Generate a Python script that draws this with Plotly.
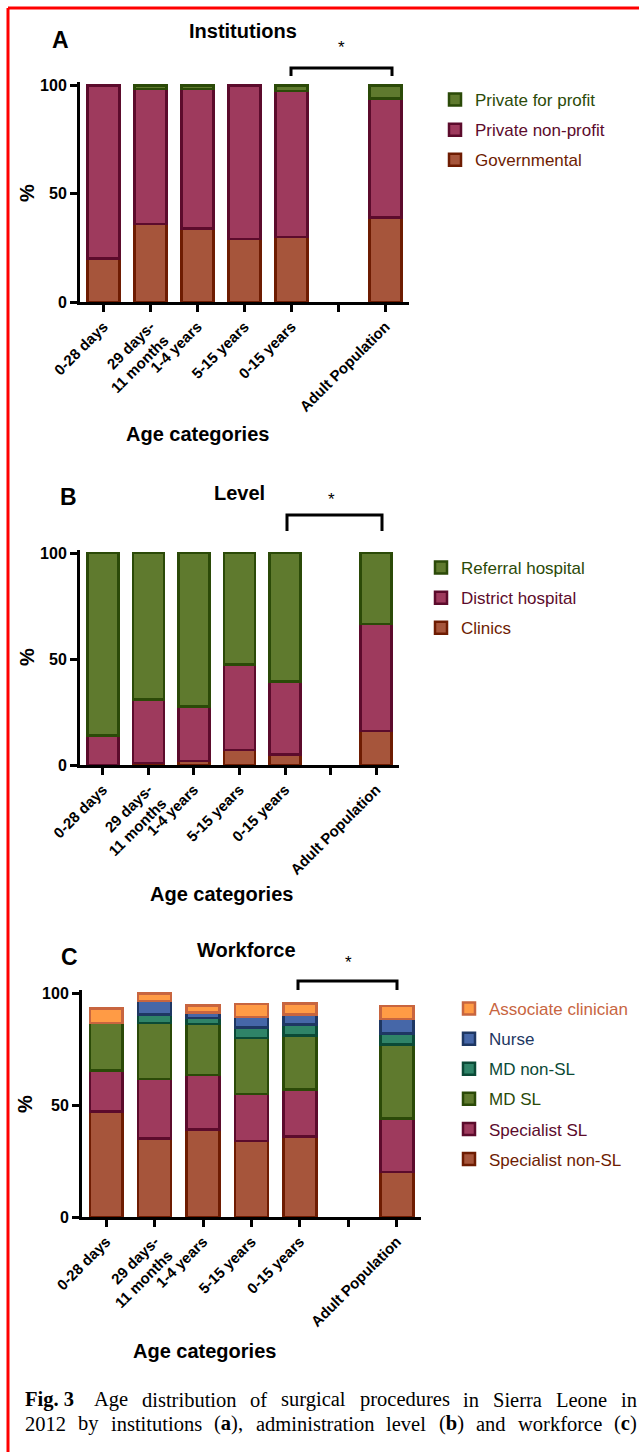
import plotly.graph_objects as go

W, H = 639, 1452
FONT = "Liberation Sans, Arial, Helvetica, sans-serif"
SERIF = "Liberation Serif, Times New Roman, serif"

# ---------------- data ----------------
age_groups = ["0-28 days", "29 days-<br>11 months", "1-4 years", "5-15 years",
              "0-15 years", "Adult Population"]
axis_categories = ["0-28 days", "29 days-<br>11 months", "1-4 years", "5-15 years",
                   "0-15 years", " ", "Adult Population"]

# Panel A - Institutions (%)
inst_governmental = [20, 36, 34, 29, 30, 39]
inst_private_nonprofit = [80, 62.5, 64.5, 71, 67.5, 55]
inst_private_profit = [0, 1.5, 1.5, 0, 2.5, 6]

# Panel B - Level (%)
level_clinics = [0, 1, 2, 7, 5, 16]
level_district = [14, 30, 25.5, 40.5, 34.5, 50.5]
level_referral = [86, 69, 72.5, 52.5, 60.5, 33.5]

# Panel C - Workforce (%)
wf_specialist_nonsl = [47, 35, 39, 34, 36, 20]
wf_specialist_sl = [18.5, 26.5, 24.5, 21, 21, 24]
wf_md_sl = [21, 25, 22.7, 25, 24, 33]
wf_md_nonsl = [0, 4, 2.7, 4.5, 5, 5]
wf_nurse = [0, 6, 2.5, 4.8, 4.3, 6.3]
wf_associate = [6.5, 3.3, 3, 5.9, 5, 6]

caption_line1 = [[("Fig. 3", True)], [("Age", False)], [("distribution", False)], [("of", False)],
                 [("surgical", False)], [("procedures", False)], [("in", False)],
                 [("Sierra", False)], [("Leone", False)], [("in", False)]]
caption_line2 = [[("2012", False)], [("by", False)], [("institutions", False)],
                 [("(", False), ("a", True), ("),", False)], [("administration", False)],
                 [("level", False)], [("(", False), ("b", True), (")", False)], [("and", False)],
                 [("workforce", False)], [("(", False), ("c", True), (")", False)]]

# ---------------- styles ----------------
BROWN = ("#a6553b", "#6e1c02")
MAROON = ("#9e3a5d", "#5c0b2c")
GREEN = ("#5f7a2e", "#2b4a08")
TEAL = ("#2f8468", "#0b4a36")
BLUE = ("#4667a8", "#1e3763")
ORANGE = ("#ff9b45", "#c8653f")


def px(x):
    return x / W


def py(y):
    return 1 - y / H


fig = go.Figure()


def add_bar(name, values, colors, xa, ya, legend, rank):
    fill, line = colors
    fig.add_trace(go.Bar(
        x=age_groups,
        y=[v if v else None for v in values],
        name=f'<span style="color:{line}">{name}</span>',
        marker=dict(color=fill, line=dict(color=line, width=2.5)),
        width=0.68,
        xaxis=xa, yaxis=ya,
        legend=legend,
        legendgroup=legend + name,
        legendrank=rank,
    ))


add_bar("Governmental", inst_governmental, BROWN, "x", "y", "legend", 3)
add_bar("Private non-profit", inst_private_nonprofit, MAROON, "x", "y", "legend", 2)
add_bar("Private for profit", inst_private_profit, GREEN, "x", "y", "legend", 1)

add_bar("Clinics", level_clinics, BROWN, "x2", "y2", "legend2", 3)
add_bar("District hospital", level_district, MAROON, "x2", "y2", "legend2", 2)
add_bar("Referral hospital", level_referral, GREEN, "x2", "y2", "legend2", 1)

add_bar("Specialist non-SL", wf_specialist_nonsl, BROWN, "x3", "y3", "legend3", 6)
add_bar("Specialist SL", wf_specialist_sl, MAROON, "x3", "y3", "legend3", 5)
add_bar("MD SL", wf_md_sl, GREEN, "x3", "y3", "legend3", 4)
add_bar("MD non-SL", wf_md_nonsl, TEAL, "x3", "y3", "legend3", 3)
add_bar("Nurse", wf_nurse, BLUE, "x3", "y3", "legend3", 2)
add_bar("Associate clinician", wf_associate, ORANGE, "x3", "y3", "legend3", 1)

TOP = 101.5


def xaxis_cfg(x0, x1, anchor):
    return dict(domain=[px(x0), px(x1)], anchor=anchor, type="category",
                categoryorder="array", categoryarray=axis_categories,
                tickvals=axis_categories, range=[-0.5, 6.5],
                ticks="outside", ticklen=7, tickwidth=3, tickcolor="black",
                showline=True, linewidth=3, linecolor="black", automargin=False,
                showgrid=False, zeroline=False, tickangle=-45,
                tickfont=dict(family=FONT, size=15, color="black", weight="bold"))


def yaxis_cfg(y0px, y100px, anchor):
    top_px = y0px - TOP * (y0px - y100px) / 100
    return dict(domain=[py(y0px), py(top_px)], anchor=anchor, range=[0, TOP],
                tickvals=[0, 50, 100], ticks="outside", ticklen=7, tickwidth=3,
                tickcolor="black", showline=True, linewidth=3, linecolor="black",
                showgrid=False, zeroline=False, automargin=False,
                tickfont=dict(family=FONT, size=16, color="black", weight="bold"))


legend_common = dict(bgcolor="rgba(0,0,0,0)", borderwidth=0,
                     traceorder="grouped", tracegroupgap=5,
                     xanchor="left", yanchor="top",
                     font=dict(family=FONT, size=17, color="black"))

annotations = []


def txt(text, x, y, size, angle=0, font=FONT, xanchor="center", color="black"):
    annotations.append(dict(text=text, x=px(x), y=py(y), xref="paper", yref="paper",
                            showarrow=False, xanchor=xanchor, yanchor="middle",
                            textangle=angle,
                            font=dict(family=font, size=size, color=color)))


# Panel A texts
txt("<b>A</b>", 60, 40, 23)
txt("<b>Institutions</b>", 243, 31, 20)
txt("*", 341, 47, 17)
txt("<b>%</b>", 27, 193, 20, angle=-90)
txt("<b>Age categories</b>", 198, 434, 20)
# Panel B texts
txt("<b>B</b>", 68, 497, 23)
txt("<b>Level</b>", 239, 493, 20)
txt("*", 332, 499, 17)
txt("<b>%</b>", 27, 657, 20, angle=-90)
txt("<b>Age categories</b>", 221, 894, 20)
# Panel C texts
txt("<b>C</b>", 69, 957, 23)
txt("<b>Workforce</b>", 246, 950, 20)
txt("*", 348, 963, 17)
txt("<b>%</b>", 25, 1104, 20, angle=-90)
txt("<b>Age categories</b>", 204, 1351, 20)

# ---- justified caption (Times metrics, per 1000 em) ----
REG = {" ": 250, "(": 333, ")": 333, ",": 250, ".": 250, "-": 333,
       "a": 444, "b": 500, "c": 444, "d": 500, "e": 444, "f": 333, "g": 500, "h": 500,
       "i": 278, "k": 500, "l": 278, "m": 778, "n": 500, "o": 500, "p": 500, "r": 333,
       "s": 389, "t": 278, "u": 500, "v": 500, "w": 722, "y": 500,
       "A": 722, "L": 611, "S": 556}
BOLD = {"F": 611, "i": 278, "g": 500, ".": 250, " ": 250, "3": 500,
        "a": 500, "b": 556, "c": 444}
CAP_SIZE = 20.5


def seg_width(text, bold):
    table = BOLD if bold else REG
    return sum(table.get(ch, 500) for ch in text) * CAP_SIZE / 1000


def justify(words, y, x0=23, x1=635, first_extra=0):
    widths = [sum(seg_width(t, b) for t, b in w) for w in words]
    gap = (x1 - x0 - sum(widths) - first_extra) / (len(words) - 1)
    x = x0
    for i, (w, wd) in enumerate(zip(words, widths)):
        html = "".join(f"<b>{t}</b>" if b else t for t, b in w)
        txt(html, x, y, CAP_SIZE, font=SERIF, xanchor="left")
        x += wd + gap + (first_extra if i == 0 else 0)


justify(caption_line1, 1399.5, first_extra=6)
justify(caption_line2, 1423.5)

shapes = []


def bracket(x0, x1, ytop, ybot):
    shapes.append(dict(type="path", xref="paper", yref="paper",
                       path=f"M{px(x0)},{py(ybot)} L{px(x0)},{py(ytop)} L{px(x1)},{py(ytop)} L{px(x1)},{py(ybot)}",
                       line=dict(color="black", width=3)))


bracket(291, 392, 68, 76)
bracket(287, 382, 515, 531)
bracket(298, 397, 981, 990)

# red frame (top and left edges)
shapes.append(dict(type="line", xref="paper", yref="paper", x0=px(8), x1=1, y0=py(8), y1=py(8),
                   line=dict(color="red", width=3)))
shapes.append(dict(type="line", xref="paper", yref="paper", x0=px(8), x1=px(8), y0=py(8), y1=0,
                   line=dict(color="red", width=3)))

fig.update_layout(
    width=W, height=H, autosize=False,
    margin=dict(l=0, r=0, t=0, b=0, pad=0, autoexpand=False),
    paper_bgcolor="white", plot_bgcolor="white",
    barmode="stack",
    xaxis=xaxis_cfg(80, 409, "y"),
    yaxis=yaxis_cfg(302, 85.5, "x"),
    xaxis2=xaxis_cfg(80, 399, "y2"),
    yaxis2=yaxis_cfg(765, 553, "x2"),
    xaxis3=xaxis_cfg(82, 421, "y3"),
    yaxis3=yaxis_cfg(1217, 993, "x3"),
    legend=dict(x=px(435), y=py(82), **legend_common),
    legend2=dict(x=px(421), y=py(550), **legend_common),
    legend3=dict(x=px(449), y=py(991), **legend_common),
    annotations=annotations,
    shapes=shapes,
    showlegend=True,
)

fig.write_html("out.html", config={"displayModeBar": False},
               post_script="document.body.style.margin='0';document.body.style.overflow='hidden';")
